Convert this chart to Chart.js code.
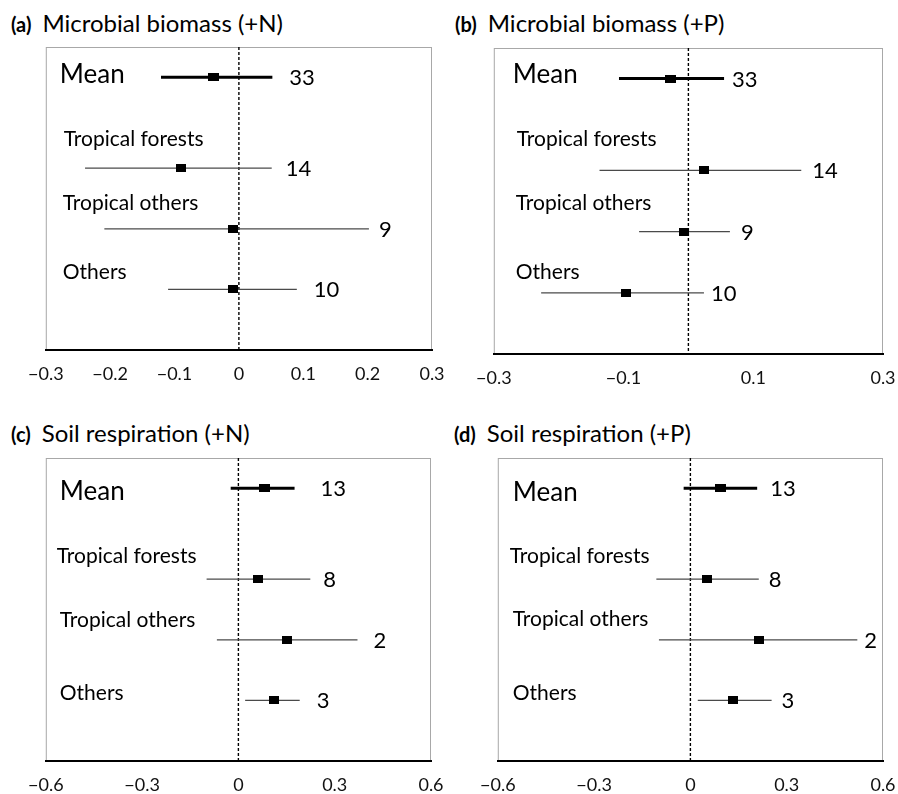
<!DOCTYPE html>
<html lang="en">
<head>
  <meta charset="UTF-8">
  <title>Microbial biomass and soil respiration</title>
  <style>
    body {
      margin: 0;
      background: #fff;
      font-family: 'Lato', sans-serif;
      overflow: hidden;
    }
    .wrap {
      position: relative;
      width: 898px;
      height: 794px;
    }
    .wrap canvas {
      position: absolute;
    }
    .titulo {
      position: absolute;
      font-size: 24px;
      line-height: 28px;
      color: #000;
      white-space: nowrap;
    }
    .titulo b {
      font-size: 20px;
      display: inline-block;
      margin-right: 11px;
    }
  </style>
  <script src="https://cdn.jsdelivr.net/npm/chart.js"></script>
</head>
<body>
<div class="wrap" id="wrap">
  <div class="titulo" style="left:11px; top:9px;"><b>(a)</b>Microbial biomass (+N)</div>
  <div class="titulo" style="left:455px; top:9px;"><b>(b)</b>Microbial biomass (+P)</div>
  <div class="titulo" style="left:11px; top:419px;"><b>(c)</b>Soil respiration (+N)</div>
  <div class="titulo" style="left:454px; top:419px;"><b>(d)</b>Soil respiration (+P)</div>
  <canvas id="panelA"></canvas>
  <canvas id="panelB"></canvas>
  <canvas id="panelC"></canvas>
  <canvas id="panelD"></canvas>
</div>

<script>
// categorias y su hueco en el eje vertical (0 arriba, 5 abajo)
const rowNames = ['Mean', 'Tropical forests', 'Tropical others', 'Others'];
const rowSlots = [0.5, 2, 3, 4];

// (a) Microbial biomass (+N)
const mbN_mean = [-0.040, -0.090, -0.009, -0.009];
const mbN_low  = [-0.121, -0.239, -0.209, -0.110];
const mbN_high = [0.052, 0.051, 0.202, 0.090];
const mbN_n    = [33, 14, 9, 10];

// (b) Microbial biomass (+P)
const mbP_mean = [-0.027, 0.024, -0.007, -0.096];
const mbP_low  = [-0.107, -0.137, -0.076, -0.227];
const mbP_high = [0.055, 0.174, 0.064, 0.024];
const mbP_n    = [33, 14, 9, 10];

// (c) Soil respiration (+N)
const srN_mean = [0.081, 0.062, 0.150, 0.110];
const srN_low  = [-0.024, -0.099, -0.067, 0.021];
const srN_high = [0.175, 0.224, 0.371, 0.191];
const srN_n    = [13, 8, 2, 3];

// (d) Soil respiration (+P)
const srP_mean = [0.095, 0.053, 0.213, 0.133];
const srP_low  = [-0.021, -0.106, -0.098, 0.023];
const srP_high = [0.208, 0.213, 0.520, 0.253];
const srP_n    = [13, 8, 2, 3];

// marcas del eje x
const ticksMbN = [-0.3, -0.2, -0.1, 0, 0.1, 0.2, 0.3];
const ticksMbP = [-0.3, -0.1, 0.1, 0.3];
const ticksSr  = [-0.6, -0.3, 0, 0.3, 0.6];

const FONT = "'Lato', sans-serif";
const PAD = { left: 30, right: 30, top: 10, bottom: 0 };
const AXIS_H = 40;

// cuadrados negros de la media
function hacerCuadrado(w, h) {
  const cv = document.createElement('canvas');
  cv.width = w;
  cv.height = h;
  const c = cv.getContext('2d');
  c.fillStyle = '#000';
  c.fillRect(0, 0, w, h);
  return cv;
}
const cuadrado = hacerCuadrado(10, 8);
const cuadradoMedia = hacerCuadrado(11, 8);

// caja gris y textos de cada fila
const forestPlugin = {
  id: 'forest',
  beforeDraw(chart) {
    const a = chart.chartArea;
    const ctx = chart.ctx;
    ctx.save();
    ctx.strokeStyle = '#a8a8a8';
    ctx.lineWidth = 1;
    ctx.strokeRect(a.left + 0.5, a.top + 0.5, a.right - a.left - 1, a.bottom - a.top);
    ctx.restore();
  },
  afterDatasetsDraw(chart, args, opts) {
    const ctx = chart.ctx;
    const xs = chart.scales.x, ys = chart.scales.y;
    const a = chart.chartArea;
    ctx.save();
    ctx.fillStyle = '#000';
    ctx.textBaseline = 'middle';
    rowNames.forEach((name, i) => {
      const y = ys.getPixelForValue(rowSlots[i]);
      // nombre de la fila
      ctx.textAlign = 'left';
      ctx.font = (i === 0 ? '26px ' : '21px ') + FONT;
      ctx.fillText(name, a.left + opts.nameX[i], y - opts.lift[i]);
      // numero de estudios
      ctx.font = '22px ' + FONT;
      ctx.fillText(String(opts.counts[i]), xs.getPixelForValue(opts.high[i]) + opts.gap[i], y + 1);
    });
    ctx.restore();
  }
};

function crearPanel(id, box, medias, bajos, altos, n, ticks, rango, textos) {
  const canvas = document.getElementById(id);
  const w = (box.R - box.L) + PAD.left + PAD.right;
  const h = (box.B - box.T) + PAD.top + AXIS_H;
  canvas.width = w;
  canvas.height = h;
  canvas.style.left = (box.L - PAD.left) + 'px';
  canvas.style.top = (box.T - PAD.top) + 'px';
  canvas.style.width = w + 'px';
  canvas.style.height = h + 'px';

  const bigotes = rowNames.map((name, i) => ({
    type: 'line',
    label: name,
    data: [{ x: bajos[i], y: rowSlots[i] }, { x: altos[i], y: rowSlots[i] }],
    borderColor: i === 0 ? '#000' : '#4a4a4a',
    borderWidth: i === 0 ? 3 : 1.2,
    pointRadius: 0,
    order: 2
  }));

  return new Chart(canvas.getContext('2d'), {
    type: 'scatter',
    data: {
      datasets: [
        {
          type: 'line',
          label: 'cero',
          data: [{ x: 0, y: 0 }, { x: 0, y: 5 }],
          borderColor: '#000',
          borderWidth: 1.4,
          borderDash: [3, 2],
          pointRadius: 0,
          order: 3
        },
        ...bigotes,
        {
          label: 'media',
          data: medias.map((m, i) => ({ x: m, y: rowSlots[i] })),
          pointStyle: medias.map((m, i) => i === 0 ? cuadradoMedia : cuadrado),
          order: 1
        }
      ]
    },
    options: {
      responsive: false,
      animation: false,
      layout: { padding: PAD },
      plugins: {
        legend: { display: false },
        tooltip: { enabled: false },
        forest: Object.assign({ counts: n, high: altos }, textos)
      },
      scales: {
        x: {
          type: 'linear',
          min: rango[0],
          max: rango[1],
          afterBuildTicks: s => { s.ticks = ticks.map(v => ({ value: v })); },
          afterFit: s => { s.height = AXIS_H; },
          grid: { display: false, drawTicks: false },
          border: { display: true, color: '#000', width: 2 },
          ticks: {
            padding: 13,
            color: '#111',
            font: { family: FONT, size: 18 },
            callback: v => v === 0 ? '0' : (v < 0 ? '\u2212' : '') + Math.abs(v).toFixed(1)
          }
        },
        y: {
          type: 'linear',
          min: 0,
          max: 5,
          reverse: true,
          display: false
        }
      }
    },
    plugins: [forestPlugin]
  });
}

crearPanel('panelA', { L: 45, T: 47, R: 432, B: 350 }, mbN_mean, mbN_low, mbN_high, mbN_n,
  ticksMbN, [-0.3, 0.3], { nameX: [14, 18, 17, 17], lift: [3, 29, 26, 17], gap: [17, 14, 10, 17] });

crearPanel('panelB', { L: 493, T: 48, R: 883, B: 354 }, mbP_mean, mbP_low, mbP_high, mbP_n,
  ticksMbP, [-0.3, 0.3], { nameX: [19, 23, 22, 22], lift: [4, 31, 28, 21], gap: [8, 11, 11, 7] });

crearPanel('panelC', { L: 45, T: 458, R: 431, B: 761 }, srN_mean, srN_low, srN_high, srN_n,
  ticksSr, [-0.6, 0.6], { nameX: [14, 11, 14, 14], lift: [-3, 23, 20, 7], gap: [26, 13, 16, 17] });

crearPanel('panelD', { L: 497, T: 458, R: 883, B: 761 }, srP_mean, srP_low, srP_high, srP_n,
  ticksSr, [-0.6, 0.6], { nameX: [15, 12, 15, 15], lift: [-4, 23, 21, 7], gap: [13, 10, 7, 10] });
</script>
</body>
</html>
